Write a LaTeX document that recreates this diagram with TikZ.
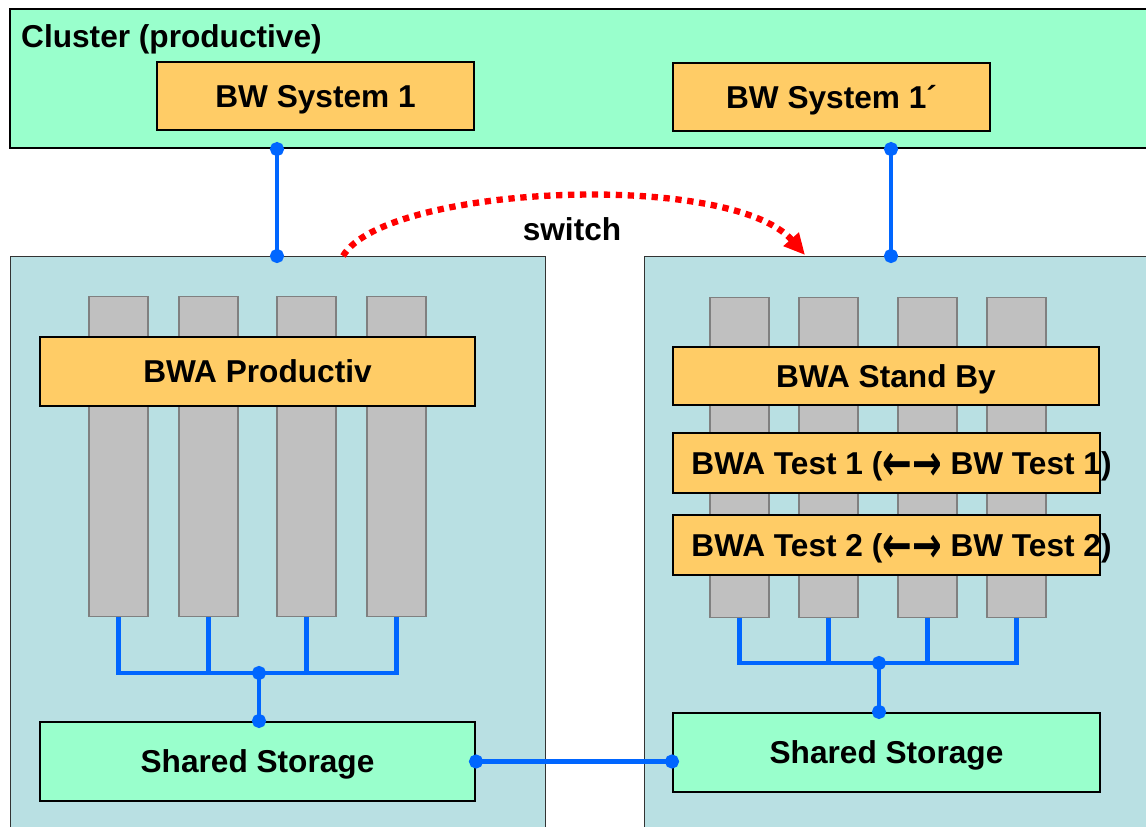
\documentclass[tikz,border=0pt]{standalone}
\usepackage{fontspec}
\setmainfont{Liberation Sans}
\newfontfamily\arrowfont{DejaVu Sans}
\usetikzlibrary{positioning, arrows.meta}
\definecolor{clusterbg}{RGB}{153,255,204}
\definecolor{systembg}{RGB}{255,204,102}
\definecolor{serverbg}{RGB}{185,224,227}
\definecolor{bladebg}{RGB}{192,192,192}
\definecolor{linkblue}{RGB}{0,102,255}

\begin{document}
\begin{tikzpicture}
    [x=0.02cm, y=-0.02cm,
    every node/.style={font=\bfseries\fontsize{18}{21}\selectfont, text height=13pt, text depth=0pt},
    cluster/.style={rectangle, draw, line width=1.2pt, fill=clusterbg},
    system/.style={rectangle, draw, line width=1.2pt, fill=systembg},
    storage/.style={rectangle, draw, line width=1.2pt, fill=clusterbg, minimum height=1.58cm},
    server/.style={rectangle, draw=black!80, line width=0.7pt, fill=serverbg},
    blade/.style={rectangle, draw=black!50, line width=0.6pt, fill=bladebg, minimum width=1.18cm,
    minimum height=6.42cm},
    link/.style={draw=linkblue, line width=2.3pt},
    dotlink/.style={link, {Circle[length=8pt]}-{Circle[length=8pt]}, shorten <=-4pt, shorten >=-4pt},
    switcharrow/.style={red, line width=3.6pt, dash pattern=on 3.6pt off 3.2pt,
    -{Triangle[length=12pt, width=11pt]}}]
    \useasboundingbox (0,0) rectangle (1146,827);

    % top cluster
    \node [cluster, minimum width=23cm, minimum height=2.78cm, anchor=north west] (cluster) at (9,8) {};
    \node [anchor=west] (clusterlabel) at (15,36) {Cluster (productive)};
    \node [system, minimum width=6.34cm, minimum height=1.36cm] (sys1) at (315.5,96) {BW System 1};
    \node [system, minimum width=6.34cm, minimum height=1.36cm] (sys2) at (831.5,97) {BW System 1´};

    % servers with blades
    \node [server, minimum width=10.7cm, minimum height=12cm, anchor=north west] (lserver) at (10,256) {};
    \node [server, minimum width=10.5cm, minimum height=12cm, anchor=north west] (rserver) at (644,256) {};
    \foreach \x [count=\i] in {118.5, 208.5, 306.5, 396.5}
      \node [blade] (lblade\i) at (\x,456.5) {};
    \foreach \x [count=\i] in {739.5, 828.5, 927.5, 1016.5}
      \node [blade] (rblade\i) at (\x,457.5) {};

    \node [system, minimum width=8.7cm, minimum height=1.38cm] (bwaprod) at (257.5,371.5) {BWA Productiv};
    \node [system, minimum width=8.52cm, minimum height=1.16cm] (bwastandby) at (886,376) {BWA Stand By};
    \node [system, minimum width=8.54cm, minimum height=1.2cm,
    label={[xshift=0.3cm]center:BWA Test 1 (\raisebox{-3.5pt}{\scalebox{1.12}[1.6]{\arrowfont ←→}} BW Test 1)}]
    (bwatest1) at (886.5,463) {};
    \node [system, minimum width=8.54cm, minimum height=1.2cm,
    label={[xshift=0.3cm]center:BWA Test 2 (\raisebox{-3.5pt}{\scalebox{1.12}[1.6]{\arrowfont ←→}} BW Test 2)}]
    (bwatest2) at (886.5,545) {};

    \node [storage, minimum width=8.7cm] (lstore) at (257.5,761.5) {Shared Storage};
    \node [storage, minimum width=8.54cm] (rstore) at (886.5,752.5) {Shared Storage};

    % connectors
    \coordinate (ltop) at (277,0);
    \coordinate (rtop) at (891,0);
    \draw [dotlink] (cluster.south -| ltop) -- (lserver.north -| ltop);
    \draw [dotlink] (cluster.south -| rtop) -- (rserver.north -| rtop);

    \coordinate (swfrom) at (343,256);
    \coordinate (swto) at (805,255);
    \draw [switcharrow] (swfrom) .. controls (385,185) and (730,170) .. (swto);
    \node (switchlabel) at (572,229) {switch};

    \coordinate (lbus) at (259,673);
    \draw [link] (lblade1.south) |- (lbus) -| (lblade4.south);
    \foreach \i in {2,3}
      \draw [link] (lblade\i.south) -- (lblade\i.south |- lbus);
    \draw [dotlink] (lbus) -- (lbus |- lstore.north);

    \coordinate (rbus) at (879,663);
    \draw [link] (rblade1.south) |- (rbus) -| (rblade4.south);
    \foreach \i in {2,3}
      \draw [link] (rblade\i.south) -- (rblade\i.south |- rbus);
    \draw [dotlink] (rbus) -- (rbus |- rstore.north);

    \draw [dotlink] (lstore.east) -- (lstore.east -| rstore.west);
  \end{tikzpicture}
\end{document}
